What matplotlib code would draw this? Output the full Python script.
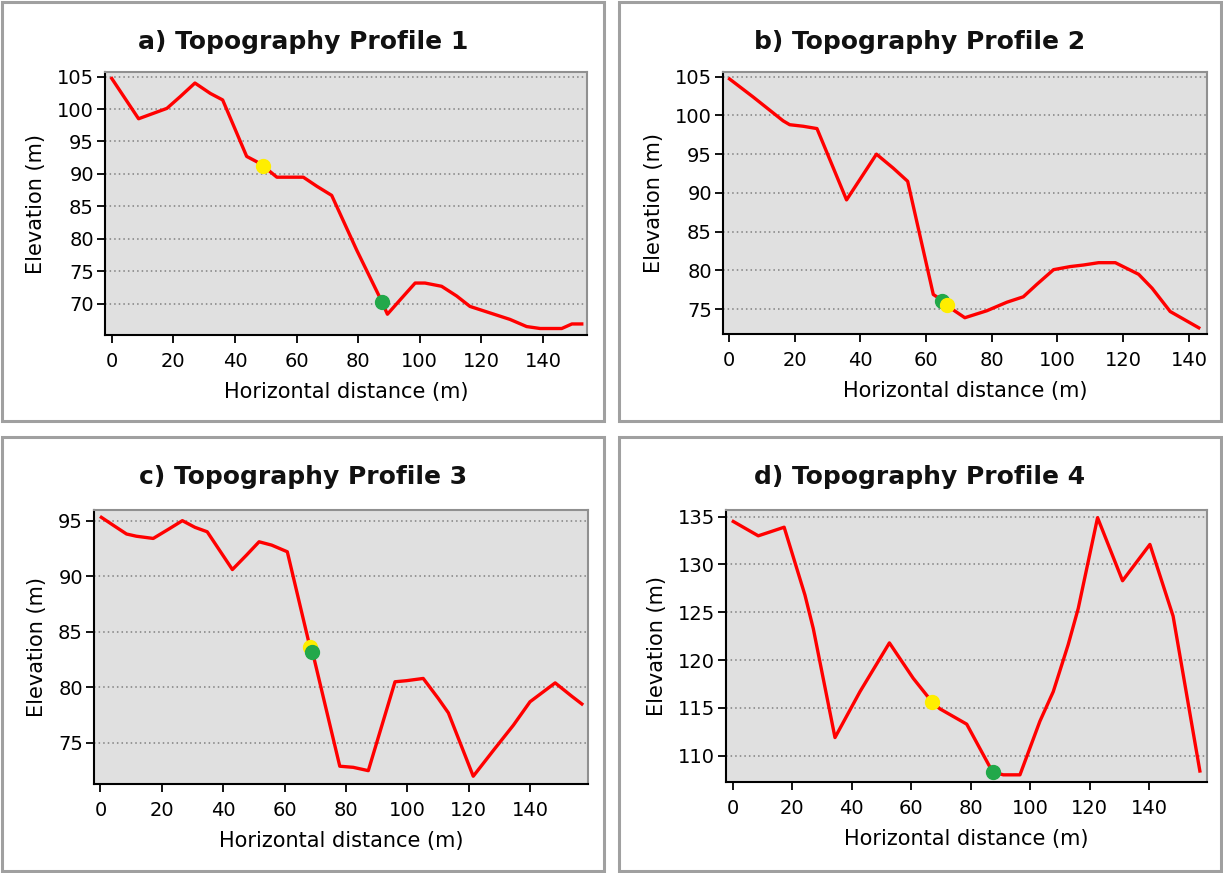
import matplotlib.pyplot as plt
from matplotlib.patches import Rectangle

# profile 1
x1 = [0, 8.7, 17.9, 22.2, 27, 32, 36, 43.8, 47, 49, 53.6, 62.2, 66.6, 71.4, 79.5, 86.6,
      87.7, 89.5, 93.6, 98.5, 101.7, 107.1, 112, 116.3, 122.8, 129.3, 134.7, 139.1, 146.1, 149.4, 152.6]
y1 = [104.7, 98.5, 100.1, 101.9, 104.0, 102.4, 101.4, 92.7, 91.9, 91.3, 89.5, 89.5, 88.1, 86.7, 78.3, 71.4,
      70.3, 68.4, 70.6, 73.2, 73.2, 72.7, 71.2, 69.6, 68.6, 67.6, 66.5, 66.2, 66.2, 66.9, 66.9]
pts1 = {'yellow': (49, 91.3), 'green': (87.7, 70.3)}

# profile 2
x2 = [0.2, 7.3, 16.5, 18.5, 22.6, 26.8, 35.8, 44.9, 50, 54.4, 62.2, 65, 66.5, 68.3, 71.8, 78.5,
      84.6, 89.6, 93.7, 98.8, 103.9, 107.9, 112.5, 117.6, 124.7, 128.8, 134.3, 143]
y2 = [104.7, 102.4, 99.3, 98.8, 98.6, 98.3, 89.1, 95.0, 93.2, 91.5, 76.9, 76.1, 75.6, 74.9, 73.9, 74.8,
      75.9, 76.6, 78.2, 80.1, 80.5, 80.7, 81.0, 81.0, 79.5, 77.7, 74.7, 72.6]
pts2 = {'green': (65, 76.1), 'yellow': (66.5, 75.6)}

# profile 3
x3 = [0.3, 4.1, 8.5, 11.7, 17.2, 22.6, 26.7, 30.8, 34.8, 43, 47.6, 51.7, 55.8, 60.9, 68.3, 69.1,
      78, 82.4, 87.3, 96, 99.8, 105.2, 110.1, 113.4, 121.5, 128, 134.6, 140, 148.2, 153.6, 156.9]
y3 = [95.3, 94.6, 93.8, 93.6, 93.4, 94.3, 95.0, 94.4, 94.0, 90.6, 91.9, 93.1, 92.8, 92.2, 83.6, 83.2,
      72.9, 72.8, 72.5, 80.5, 80.6, 80.8, 79.0, 77.7, 72.0, 74.3, 76.6, 78.7, 80.4, 79.2, 78.5]
pts3 = {'yellow': (68.3, 83.6), 'green': (69.1, 83.2)}

# profile 4
x4 = [0.2, 8.6, 12.5, 17.3, 24.3, 27.1, 34.4, 42.8, 52.7, 60.7, 67.1, 69.7, 78.7, 87.4, 91, 96.6,
      103.3, 107.8, 112.8, 116.2, 122.7, 131.1, 140.3, 148.1, 157.1]
y4 = [134.5, 133.0, 133.4, 133.9, 126.8, 123.3, 111.9, 116.7, 121.8, 118.1, 115.6, 114.9, 113.3, 108.3, 108.0, 108.0,
      113.6, 116.7, 121.6, 125.4, 134.9, 128.3, 132.1, 124.6, 108.4]
pts4 = {'yellow': (67.1, 115.6), 'green': (87.4, 108.3)}

titles = ['a) Topography Profile 1', 'b) Topography Profile 2',
          'c) Topography Profile 3', 'd) Topography Profile 4']
yticks = [[70, 75, 80, 85, 90, 95, 100, 105], [75, 80, 85, 90, 95, 100, 105],
          [75, 80, 85, 90, 95], [110, 115, 120, 125, 130, 135]]
xticks = [0, 20, 40, 60, 80, 100, 120, 140]

W, H = 1223, 873
fig = plt.figure(figsize=(W / 100, H / 100), dpi=100)

def px_axes(l, t, r, b):
    return fig.add_axes([l / W, 1 - b / H, (r - l) / W, (b - t) / H])

axes_px = [(105, 72, 587, 335), (723, 72, 1207, 334), (94, 510, 588, 784), (726, 510, 1207, 782)]
limits = [((-2.2, 154.3), (65.2, 105.7)), ((-1.8, 145.5), (71.8, 105.6)),
          ((-2.1, 158.9), (71.3, 95.96)), ((-2.25, 159.5), (107.25, 135.7))]
boxes = [(2, 2, 604, 421), (619, 2, 1221, 421), (2, 437, 604, 871), (619, 437, 1221, 871)]
data = [(x1, y1, pts1), (x2, y2, pts2), (x3, y3, pts3), (x4, y4, pts4)]
colors = {'yellow': '#ffee00', 'green': '#22a84a'}

for i in range(4):
    l, t, r, b = boxes[i]
    fig.patches.append(Rectangle((l / W, 1 - b / H), (r - l) / W, (b - t) / H,
                                 transform=fig.transFigure, fill=False,
                                 edgecolor='#a0a0a0', linewidth=2.2))
    fig.text((l + r) / 2 / W, 1 - (t + 40) / H, titles[i], ha='center', va='center',
             fontsize=18, fontweight='bold', color='#111111')

    ax = px_axes(*axes_px[i])
    xs, ys, pts = data[i]
    ax.set_facecolor('#e0e0e0')
    ax.plot(xs, ys, c='#ff0000', linewidth=2.4, zorder=3)
    for name, (px, py) in pts.items():
        ax.plot(px, py, 'o', c=colors[name], markersize=10, zorder=4)
    ax.set_xlim(*limits[i][0])
    ax.set_ylim(*limits[i][1])
    ax.set_xticks(xticks)
    ax.set_yticks(yticks[i])
    ax.grid(axis='y', color='#808080', linestyle=(0, (1, 2)), linewidth=1.1)
    ax.set_axisbelow(True)
    for s in ['top', 'right']:
        ax.spines[s].set_color('#909090')
        ax.spines[s].set_linewidth(1.5)
    for s in ['left', 'bottom']:
        ax.spines[s].set_color('black')
        ax.spines[s].set_linewidth(1.5)
    ax.tick_params(direction='out', length=6, width=1.3, pad=2, labelsize=14, colors='black')
    ax.tick_params(axis='x', pad=6)
    ax.set_xlabel('Horizontal distance (m)', fontsize=15, labelpad=8)
    ax.set_ylabel('Elevation (m)', fontsize=15, labelpad=8)

fig.savefig('out.png', dpi=100)
